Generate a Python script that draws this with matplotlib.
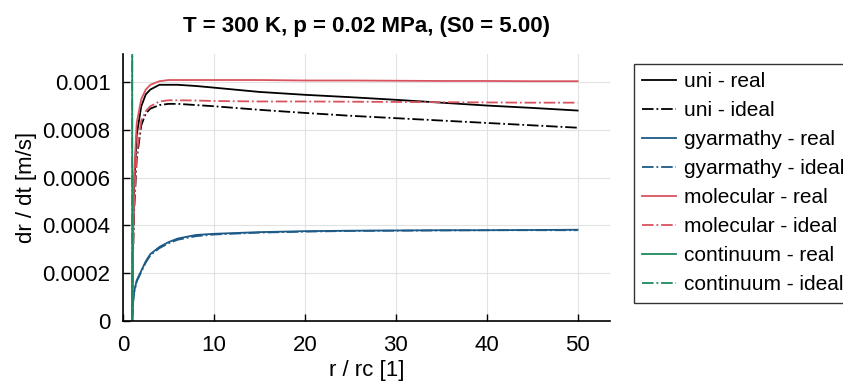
import numpy as np
import matplotlib.pyplot as plt

plt.rcParams['font.family'] = ['Liberation Sans', 'DejaVu Sans']

# r / rc sample points
r = [1.0, 1.1, 1.2, 1.5, 2.0, 2.5, 3.0, 4.0, 5.0, 6.0, 8.0, 10.0, 15.0,
     20.0, 25.0, 30.0, 35.0, 40.0, 45.0, 50.0]

uniReal = [0, 0.00035, 0.00055, 0.00078, 0.00090, 0.00095, 0.00097, 0.00099,
           0.00099, 0.00099, 0.000985, 0.000978, 0.00096, 0.000948, 0.000938,
           0.000927, 0.000915, 0.000903, 0.000893, 0.000882]
uniIdeal = [0, 0.00028, 0.00045, 0.00068, 0.00082, 0.00087, 0.00089, 0.000905,
            0.00091, 0.00091, 0.000905, 0.0009, 0.000885, 0.000872, 0.00086,
            0.00085, 0.00084, 0.00083, 0.00082, 0.00081]
gyaReal = [0, 0.00008, 0.00012, 0.00017, 0.00021, 0.00025, 0.00028, 0.00031,
           0.00033, 0.000345, 0.00036, 0.000365, 0.000372, 0.000376, 0.000378,
           0.000379, 0.00038, 0.00038, 0.000381, 0.000382]
gyaIdeal = [0, 0.000075, 0.000115, 0.000165, 0.000205, 0.000245, 0.000275,
            0.000305, 0.000325, 0.00034, 0.000355, 0.000362, 0.00037,
            0.000374, 0.000377, 0.000378, 0.000379, 0.00038, 0.00038, 0.00038]
molReal = [0, 0.00040, 0.00060, 0.00083, 0.00093, 0.00097, 0.00099, 0.001005,
           0.00101, 0.00101, 0.00101, 0.00101, 0.00101, 0.001008, 0.001008,
           0.001007, 0.001006, 0.001006, 0.001005, 0.001005]
molIdeal = [0, 0.00030, 0.00048, 0.00070, 0.00084, 0.00088, 0.0009, 0.00092,
            0.000925, 0.000925, 0.000924, 0.000922, 0.00092, 0.00092,
            0.000919, 0.000918, 0.000917, 0.000916, 0.000915, 0.000915]

# continuum shoots up right after r = rc (mostly off the chart)
rCont = [1.0, 1.02, 1.05, 1.2, 2.0, 5.0, 10.0, 20.0, 50.0]
contReal = [0, 0.0045, 0.0095, 0.025, 0.04, 0.03, 0.018, 0.0095, 0.0039]
contIdeal = [0, 0.0044, 0.0093, 0.024, 0.039, 0.029, 0.0175, 0.0092, 0.0038]

yTicks = [0, 0.0002, 0.0004, 0.0006, 0.0008, 0.001]
yTickLabels = ['0', '0.0002', '0.0004', '0.0006', '0.0008', '0.001']

colors = {'uni': 'black', 'gyarmathy': '#1d5a87',
          'molecular': '#d9535e', 'continuum': '#1b8a5e'}

fig = plt.figure(figsize=(8.43, 3.87), dpi=100)
ax = fig.add_axes([0.146, 0.171, 0.578, 0.69])

ax.plot(r, uniReal, '-', color=colors['uni'], lw=1.3, label='uni - real')
ax.plot(r, uniIdeal, '-.', color=colors['uni'], lw=1.3, label='uni - ideal')
ax.plot(r, gyaReal, '-', color=colors['gyarmathy'], lw=1.3, label='gyarmathy - real')
ax.plot(r, gyaIdeal, '-.', color=colors['gyarmathy'], lw=1.3, label='gyarmathy - ideal')
ax.plot(r, molReal, '-', color=colors['molecular'], lw=1.3, label='molecular - real')
ax.plot(r, molIdeal, '-.', color=colors['molecular'], lw=1.3, label='molecular - ideal')
ax.plot(rCont, contReal, '-', color=colors['continuum'], lw=1.3, label='continuum - real')
ax.plot(rCont, contIdeal, '-.', color=colors['continuum'], lw=1.3, label='continuum - ideal')

ax.set_xlim(0, 53.6)
ax.set_ylim(0, 0.00112)
ax.set_xticks([0, 10, 20, 30, 40, 50])
ax.set_yticks(yTicks)
ax.set_yticklabels(yTickLabels)
ax.tick_params(direction='in', labelsize=16, length=5, width=1)
ax.tick_params(axis='x', pad=10)
ax.tick_params(axis='y', pad=9)
ax.grid(True, color='#e2e2e2', lw=0.8)
ax.set_axisbelow(True)
for side in ['top', 'right']:
    ax.spines[side].set_visible(False)
for side in ['left', 'bottom']:
    ax.spines[side].set_linewidth(1.2)

ax.set_xlabel('r / rc [1]', fontsize=16, labelpad=3)
ax.set_ylabel('dr / dt [m/s]', fontsize=16, labelpad=4)
ax.set_title('T = 300 K, p = 0.02 MPa, (S0 = 5.00)', fontsize=16,
             fontweight='bold', pad=16)

leg = ax.legend(loc='upper left', bbox_to_anchor=(0.752, 0.835),
                bbox_transform=fig.transFigure, fontsize=15, fancybox=False,
                edgecolor='black', handlelength=1.6, handletextpad=0.4,
                labelspacing=0.48, borderpad=0.4, borderaxespad=0)
leg.get_frame().set_linewidth(1.0)

fig.savefig('out.png', dpi=100)
